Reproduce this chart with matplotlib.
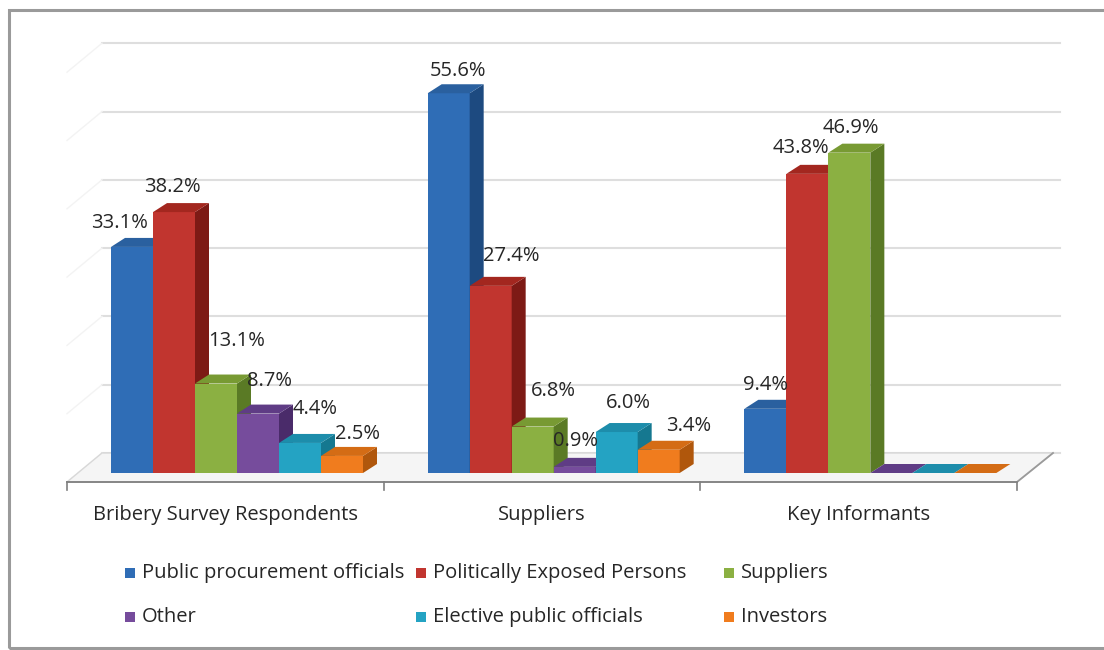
import matplotlib.pyplot as plt
from matplotlib.patches import Polygon, Rectangle

plt.rcParams['font.family'] = ['Open Sans', 'DejaVu Sans']

groups = ['Bribery Survey Respondents', 'Suppliers', 'Key Informants']
series = ['Public procurement officials', 'Politically Exposed Persons', 'Suppliers',
          'Other', 'Elective public officials', 'Investors']

procurement = [33.1, 55.6, 9.4]
pep = [38.2, 27.4, 43.8]
suppliers = [13.1, 6.8, 46.9]
other = [8.7, 0.9, 0.0]
elective = [4.4, 6.0, 0.0]
investors = [2.5, 3.4, 0.0]
all_values = [procurement, pep, suppliers, other, elective, investors]

front = ['#2f6db6', '#c1352f', '#8bb042', '#764c9c', '#24a3c3', '#f07c1e']
side = ['#1d4a80', '#7d1a15', '#5a7a25', '#4a2b6a', '#157890', '#b0570c']
top = ['#2a609f', '#a3271f', '#789a33', '#5f3c85', '#1d8dab', '#d46c15']

# small pixel nudges for the value labels, [group][series] -> (right, down)
label_nudge = [
    [(-19, 2), (-9, 1), (14, -17), (5, -7), (8, -8), (9, 4)],
    [(2, 4), (14, -4), (14, -10), (-6, 0), (5, -3), (23, 2)],
    [(-7, 2), (-13, 0), (-5, 1), (0, 0), (0, 0), (0, 0)],
]

W, H = 1104, 650
X0, Y0 = 67, 473          # pixel position of (0, 0) for the bar fronts
UX, UY = 316.67, 6.83     # pixels per category / per percent
FS = 14.5


def ux(p):
    return p / UX


def uy(p):
    return p / UY


fig = plt.figure(figsize=(W / 100, H / 100), dpi=100)
ax = fig.add_axes([0, 0, 1, 1])
ax.set_xlim(-X0 / UX, (W - X0) / UX)
ax.set_ylim(-(H - Y0) / UY, Y0 / UY)
ax.axis('off')

# outer frame
fig.patches.append(Rectangle((9 / W, 2 / H), 1.2, 1 - 12 / H, transform=fig.transFigure,
                             fill=False, ec='#9a9a9a', lw=2.2))

# floor and walls
floor_front = uy(-9)
floor_back = uy(20)
back_left = ux(35)
right_front = 3.0
right_back = right_front + ux(36)
ax.add_patch(Polygon([(0, floor_front), (right_front, floor_front),
                      (right_back, floor_back), (back_left, floor_back)],
                     closed=True, fc='#f5f5f5', ec='#d8d8d8', lw=1, zorder=1))
for k in range(7):
    yb = floor_back + 10 * k
    ax.plot([back_left, right_back + ux(7)], [yb, yb], color='#dedede', lw=1.5, zorder=0.5)
    ax.plot([0, back_left], [yb - uy(29), yb], color='#f3f3f3', lw=1.0, zorder=0.5)

# category axis
ax.plot([0, right_front], [floor_front, floor_front], color='#7f7f7f', lw=1.3, zorder=2)
ax.plot([right_front, right_back], [floor_front, floor_back], color='#9a9a9a', lw=1.3, zorder=2)
for b in range(4):
    ax.plot([b, b], [floor_front, floor_front - uy(8)], color='#7f7f7f', lw=1.2, zorder=2)
for g, name in enumerate(groups):
    ax.text(g + 0.5, uy(-42), name, ha='center', va='center', fontsize=FS, color='#262626')

# 3D-looking bars
bw = ux(42)
offset = ux(44)
dx, dy = ux(14), uy(9)
z = 3
for g in range(len(groups)):
    for s, vals in enumerate(all_values):
        v = vals[g]
        x = g + offset + s * bw
        ax.bar(x, v, width=bw, align='edge', color=front[s], lw=0, zorder=z)
        ax.add_patch(Polygon([(x + bw, 0), (x + bw + dx, dy), (x + bw + dx, v + dy), (x + bw, v)],
                             closed=True, fc=side[s], lw=0, zorder=z))
        ax.add_patch(Polygon([(x, v), (x + bw, v), (x + bw + dx, v + dy), (x + dx, v + dy)],
                             closed=True, fc=top[s], lw=0, zorder=z))
        z += 0.01
        if v > 0:
            nx, ny = label_nudge[g][s]
            ax.text(x + bw / 2 + ux(7 + nx), v + uy(26 - ny), f'{v:.1f}%', ha='center',
                    va='center', fontsize=FS, color='#262626', zorder=10)

# legend
leg_cols = [125, 416, 724]
leg_rows = [573, 617]
for i, name in enumerate(series):
    cx = leg_cols[i % 3]
    cy = leg_rows[i // 3]
    fig.patches.append(Rectangle((cx / W, 1 - (cy + 5) / H), 10 / W, 10 / H,
                                 transform=fig.transFigure, fc=front[i], ec='none'))
    fig.text((cx + 17) / W, 1 - cy / H, name, ha='left', va='center',
             fontsize=FS, color='#262626')

fig.savefig('out.png', dpi=100)
